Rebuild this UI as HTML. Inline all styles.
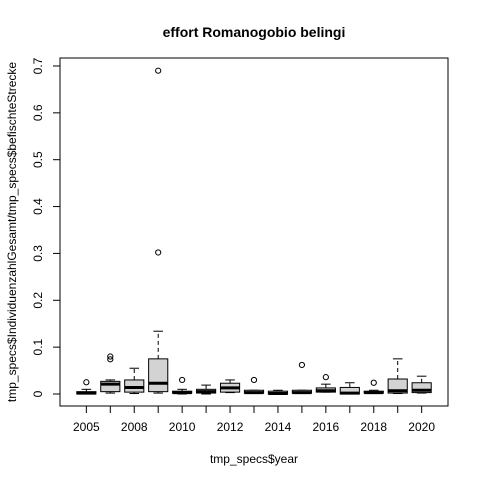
<!DOCTYPE html>
<html><head><meta charset="utf-8"><style>body{margin:0;background:#fff}svg{display:block;font-family:"Liberation Sans",Arial,sans-serif}</style></head>
<body>
<svg id="c" width="480" height="480"></svg>
<script>
const categories=["2005","2007","2008","2009","2010","2011","2012","2013","2014","2015","2016","2017","2018","2019","2020"];
const tickLabels=["2005","2008","2010","2012","2014","2016","2018","2020"];
const mins=[0,0.002,0.001,0.002,0,0,0.003,0.001,0,0.001,0.004,0,0.001,0.001,0.002];
const q1s=[0,0.005,0.004,0.005,0.002,0.002,0.004,0.002,0.0,0.002,0.004,0.0,0.002,0.002,0.003];
const meds=[0.002,0.021,0.014,0.023,0.003,0.005,0.013,0.003,0.001,0.003,0.007,0.002,0.003,0.007,0.008];
const q3s=[0.005,0.027,0.03,0.075,0.006,0.01,0.023,0.008,0.006,0.008,0.013,0.014,0.006,0.032,0.024];
const maxs=[0.01,0.03,0.055,0.134,0.01,0.019,0.03,0.008,0.008,0.008,0.021,0.024,0.008,0.075,0.038];
const outliers=[[0.025],[0.08,0.074],[],[0.69,0.302],[0.03],[],[],[0.03],[],[0.062],[0.036],[],[0.024],[],[]];
const yTicks=[0,0.1,0.2,0.3,0.4,0.5,0.6,0.7];
const L=60,R=448,T=58,B=406;
const x=i=>L+(i+1-0.5+0.6)*(R-L)/16.2;
const y=v=>394-v*468.6;
const s=document.getElementById('c');const NS="http://www.w3.org/2000/svg";
function mk(t,a,p){const e=document.createElementNS(NS,t);for(const k in a)e.setAttribute(k,a[k]);(p||s).appendChild(e);return e;}
let e;
e=mk('rect',{x:L,y:T,width:R-L,height:B-T,fill:'none',stroke:'#000'});


e=mk('text',{x:254,y:37,'text-anchor':'middle','font-size':'14','font-weight':'bold'});e.textContent='effort Romanogobio belingi';


e=mk('text',{x:254,y:463,'text-anchor':'middle','font-size':'12'});e.textContent='tmp_specs$year';


e=mk('text',{x:16,y:232,'text-anchor':'middle','font-size':'12',transform:'rotate(-90 16 232)'});e.textContent='tmp_specs$IndividuenzahlGesamt/tmp_specs$befischteStrecke';


yTicks.forEach(v=>{const yy=y(v);
 e=mk('line',{x1:L-7,x2:L,y1:yy,y2:yy,stroke:'#000'});
 
 
 e=mk('text',{x:42,y:yy,'text-anchor':'middle','font-size':'12',transform:`rotate(-90 42 ${yy})`});e.textContent=String(v);
 
 
});
e=mk('line',{x1:L,x2:L,y1:y(0),y2:y(0.7),stroke:'#000'});


e=mk('line',{x1:x(0),x2:x(14),y1:B,y2:B,stroke:'#000'});


categories.forEach((c,i)=>{const xx=x(i);
 e=mk('line',{x1:xx,x2:xx,y1:B,y2:B+7,stroke:'#000'});
 
 
 if(tickLabels.includes(c)){e=mk('text',{x:xx,y:B+25,'text-anchor':'middle','font-size':'12'});e.textContent=c;
  
  }
 const g=mk('g',{});
 
 
 const hw=0.4*23.95,cw=0.2*23.95;
 mk('line',{x1:xx,x2:xx,y1:y(q3s[i]),y2:y(maxs[i]),stroke:'#000','stroke-dasharray':'4,3'},g);
 mk('line',{x1:xx,x2:xx,y1:y(q1s[i]),y2:y(mins[i]),stroke:'#000','stroke-dasharray':'4,3'},g);
 mk('line',{x1:xx-cw,x2:xx+cw,y1:y(maxs[i]),y2:y(maxs[i]),stroke:'#000'},g);
 mk('line',{x1:xx-cw,x2:xx+cw,y1:y(mins[i]),y2:y(mins[i]),stroke:'#000'},g);
 mk('rect',{x:xx-hw,y:y(q3s[i]),width:2*hw,height:Math.max(0.5,y(q1s[i])-y(q3s[i])),fill:'#d3d3d3',stroke:'#000'},g);
 mk('line',{x1:xx-hw,x2:xx+hw,y1:y(meds[i]),y2:y(meds[i]),stroke:'#000','stroke-width':3},g);
 outliers[i].forEach(o=>{mk('circle',{cx:xx,cy:y(o),r:2.6,fill:'none',stroke:'#000'},g);});
});
</script>
</body></html>
